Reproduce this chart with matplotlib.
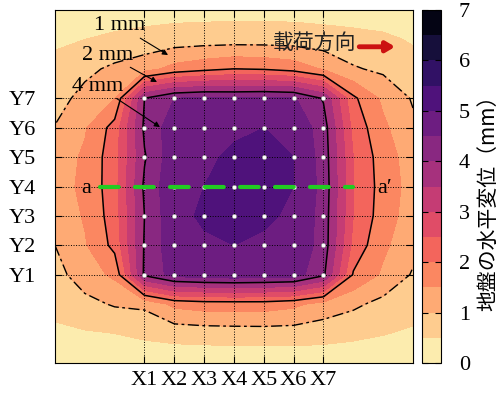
import matplotlib
matplotlib.use('Agg')
import matplotlib.pyplot as plt
import numpy as np

plt.rcParams['font.family'] = ['Liberation Serif', 'DejaVu Serif']

# grid of horizontal ground displacement (mm)
grid_x = [-2, -1, 0, 1, 2, 3, 4, 5, 6, 7, 8, 9, 10]
grid_y = [-2, -1, 0, 1, 2, 3, 4, 5, 6, 7, 8, 9, 10]
disp = [
    [0.22, 0.20, 0.17, 0.15, 0.14, 0.13, 0.13, 0.13, 0.13, 0.13, 0.15, 0.18, 0.22],
    [0.42, 0.45, 0.50, 0.60, 0.69, 0.73, 0.75, 0.76, 0.76, 0.72, 0.62, 0.52, 0.43],
    [0.62, 0.85, 1.05, 1.10, 1.63, 1.74, 1.75, 1.75, 1.62, 1.30, 1.10, 0.85, 0.70],
    [0.82, 1.26, 1.60, 4.10, 4.70, 4.80, 4.85, 4.80, 4.75, 4.10, 1.95, 1.42, 0.95],
    [1.00, 1.45, 2.15, 4.05, 4.85, 4.95, 5.00, 4.95, 4.90, 4.30, 2.35, 1.60, 1.15],
    [1.15, 1.55, 2.25, 4.00, 4.90, 5.05, 5.05, 5.05, 4.95, 4.30, 2.50, 1.75, 1.25],
    [1.30, 1.60, 2.30, 4.10, 4.90, 5.00, 5.10, 5.05, 5.00, 4.35, 2.50, 1.80, 1.30],
    [1.22, 1.58, 2.30, 3.95, 4.85, 4.95, 5.05, 5.10, 5.00, 4.30, 2.50, 1.75, 1.25],
    [1.02, 1.45, 2.20, 4.10, 4.80, 4.90, 4.95, 5.00, 4.90, 4.25, 2.35, 1.60, 1.10],
    [0.82, 1.15, 1.50, 4.00, 4.50, 4.60, 4.55, 4.60, 4.55, 3.95, 2.10, 1.40, 0.95],
    [0.62, 0.88, 1.10, 1.30, 1.67, 1.85, 2.00, 1.95, 1.80, 1.45, 1.05, 0.90, 0.68],
    [0.43, 0.50, 0.60, 0.68, 0.74, 0.77, 0.78, 0.78, 0.77, 0.72, 0.66, 0.60, 0.45],
    [0.12, 0.18, 0.22, 0.26, 0.30, 0.31, 0.32, 0.32, 0.31, 0.28, 0.25, 0.20, 0.12],
]

# measurement points
pos = [1, 2, 3, 4, 5, 6, 7]
x_labels = ['X1', 'X2', 'X3', 'X4', 'X5', 'X6', 'X7']
y_labels = ['Y1', 'Y2', 'Y3', 'Y4', 'Y5', 'Y6', 'Y7']

# section a - a'
section_x = [-0.49, 8.0]
section_y = [4, 4]

levels = np.arange(0, 7.5, 0.5)

fig = plt.figure(figsize=(5.03, 4.0), dpi=100)
ax = fig.add_axes([0.1093, 0.0925, 0.7117, 0.8825])
cax = fig.add_axes([0.8385, 0.0925, 0.0378, 0.8825])

Z = np.array(disp)
cf = ax.contourf(grid_x, grid_y, Z, levels=levels, cmap='magma_r')
ax.contour(grid_x, grid_y, Z, levels=[1], colors='k', linewidths=1.0,
           linestyles=[(0, (8, 2.5, 2, 2.5))], zorder=2)
ax.contour(grid_x, grid_y, Z, levels=[2, 4], colors='k', linewidths=1.1, zorder=2)

px, py = np.meshgrid(pos, pos)
ax.scatter(px.ravel(), py.ravel(), s=10, c='white', edgecolors='#8a8a8a',
           linewidths=0.4, zorder=3)

ax.plot(section_x, section_y, color='#22cc22', lw=3, linestyle=(0, (4.5, 3.9)),
        dash_capstyle='round', zorder=4)
ax.text(-0.95, 3.92, 'a', fontsize=16, ha='center', va='center')
ax.text(9.05, 3.92, 'a\u2032', fontsize=16, ha='center', va='center')

arrow = dict(arrowstyle='-|>', color='k', lw=0.8, mutation_scale=8,
             shrinkA=0, shrinkB=0)
ax.annotate('1 mm', xy=(1.79, 8.47), xytext=(0.18, 9.46), fontsize=16,
            ha='center', va='center', arrowprops=arrow)
ax.annotate('2 mm', xy=(1.42, 7.55), xytext=(-0.22, 8.47), fontsize=16,
            ha='center', va='center', arrowprops=arrow)
ax.annotate('4 mm', xy=(1.52, 6.02), xytext=(-0.56, 7.41), fontsize=16,
            ha='center', va='center', arrowprops=arrow)

ax.text(6.72, 8.88, '載荷方向', fontsize=15, ha='center', va='center',
        family=['Noto Sans CJK JP'], color='#222222')
ax.annotate('', xy=(9.4, 8.75), xytext=(8.2, 8.75),
            arrowprops=dict(arrowstyle='-|>,head_length=0.5,head_width=0.3',
                            color='#cc1111', lw=3.5, mutation_scale=10,
                            shrinkA=0, shrinkB=0))

ax.set_xlim(-2, 10)
ax.set_ylim(-2, 10)
ax.set_xticks(pos)
ax.set_xticklabels(x_labels)
ax.set_yticks(pos)
ax.set_yticklabels(y_labels)
ax.tick_params(direction='in', top=True, right=True, length=5, labelsize=16)
ax.tick_params(axis='x', pad=6)
ax.tick_params(axis='y', pad=14)
ax.grid(True, color='k', linestyle=':', linewidth=0.7)

cb = fig.colorbar(cf, cax=cax, ticks=range(8))
cax.tick_params(direction='in', length=4, left=True, right=True,
                labelsize=16, pad=13)
fig.text(0.970, 0.505, '地盤の水平変位（mm）', rotation=90, fontsize=15,
         ha='center', va='center', family=['Noto Sans CJK JP'])

fig.savefig('out.png', dpi=100)
